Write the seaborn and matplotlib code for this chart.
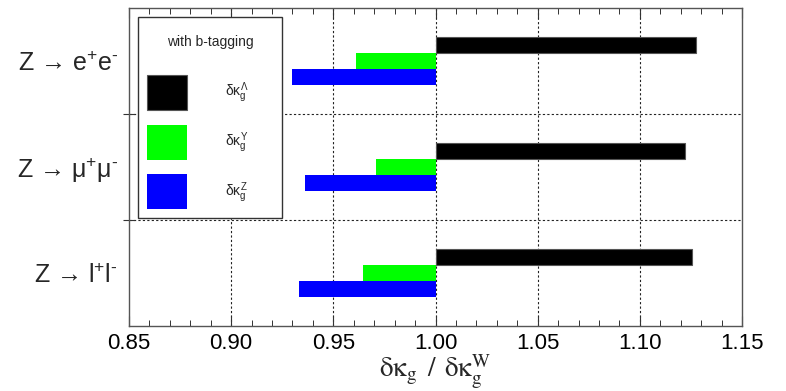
import numpy as np
import pandas as pd
import matplotlib
matplotlib.use("Agg")
import matplotlib.pyplot as plt
import seaborn as sns
from matplotlib.patches import Rectangle
from matplotlib.ticker import MultipleLocator, FixedLocator

# ---- data ----
channels = ["Z → e$^{+}$e$^{\\text{-}}$", "Z → μ$^{+}$μ$^{\\text{-}}$", "Z → l$^{+}$l$^{\\text{-}}$"]
kappa_lambda = [1.1275, 1.122, 1.1255]
kappa_gamma = [0.961, 0.971, 0.9645]
kappa_z = [0.930, 0.936, 0.933]
series_labels = [r"$\delta\kappa_g^{\Lambda}$", r"$\delta\kappa_g^{Y}$", r"$\delta\kappa_g^{Z}$"]
series_colors = ["#000000", "#00ff00", "#0000ff"]
reference = 1.0
x_ticks = [0.85, 0.90, 0.95, 1.00, 1.05, 1.10, 1.15]
x_ticklabels = ["0.85", "0.90", "0.95", "1.00", "1.05", "1.10", "1.15"]
legend_title = "with b-tagging"
x_label = r"$\mathrm{\delta\kappa}_{\mathrm{g}}\ \,/\ \,\mathrm{\delta\kappa}_{\mathrm{g}}^{\mathrm{W}}$"

rows = []
for lab, vals in zip(series_labels, [kappa_lambda, kappa_gamma, kappa_z]):
    for ch, v in zip(channels, vals):
        rows.append({"channel": ch, "series": lab, "value": v, "offset": v - reference})
df = pd.DataFrame(rows)

sns.set_style("ticks")
plt.rcParams["font.family"] = ["Liberation Sans", "DejaVu Sans"]
plt.rcParams["mathtext.fontset"] = "custom"
plt.rcParams["mathtext.rm"] = "Liberation Sans"
plt.rcParams["mathtext.it"] = "Liberation Sans"
plt.rcParams["mathtext.bf"] = "Liberation Sans:bold"

W, H = 786, 391
fig = plt.figure(figsize=(W / 100, H / 100), dpi=100)
AX_L, AX_R, AX_T, AX_B = 129, 742, 8, 326
ax = fig.add_axes([AX_L / W, 1 - AX_B / H, (AX_R - AX_L) / W, (AX_B - AX_T) / H])

def ax_xy(px, py):
    return ((px - AX_L) / (AX_R - AX_L), (AX_B - py) / (AX_B - AX_T))

sns.barplot(data=df, y="channel", x="offset", hue="series",
            order=channels, hue_order=series_labels, palette=series_colors,
            orient="h", width=0.45, left=reference, edgecolor="none",
            linewidth=0, saturation=1, legend=False, ax=ax)
for p in ax.containers[0].patches:
    p.set_edgecolor("#555555")
    p.set_linewidth(0.8)

ax.set_xlim(x_ticks[0], x_ticks[-1])
ax.set_ylim(2.5, -0.5)
ax.xaxis.set_major_locator(FixedLocator(x_ticks))
ax.set_xticklabels(x_ticklabels)
ax.xaxis.set_minor_locator(MultipleLocator(0.01))
ax.yaxis.set_minor_locator(FixedLocator([0.5, 1.5]))

ax.tick_params(axis="x", which="major", direction="in", length=7, width=0.8,
               top=True, labelsize=16, pad=5, colors="#333333", labelcolor="black")
ax.tick_params(axis="x", which="minor", direction="in", length=4, width=0.7,
               top=True, colors="#333333")
ax.tick_params(axis="y", which="major", length=0, labelsize=18, pad=8)
ax.tick_params(axis="y", which="minor", direction="inout", length=8, width=0.8,
               colors="#333333")

ax.grid(False)
for x in x_ticks[1:-1]:
    ax.axvline(x, color="#222222", linestyle=(0, (2, 2)), linewidth=0.8, zorder=0)
for y in [0.5, 1.5]:
    ax.axhline(y, color="#222222", linestyle=(0, (2, 2)), linewidth=0.8, zorder=0)

for s in ax.spines.values():
    s.set_color("#555555")
    s.set_linewidth(1.0)

ax.set_ylabel("")
ax.set_xlabel(x_label, fontsize=19.5, labelpad=-1, math_fontfamily="stix")

# legend frame
x0, y1 = ax_xy(138, 218)
x1, y0 = ax_xy(282, 17)
ax.add_patch(Rectangle((x0, y1), x1 - x0, y0 - y1, transform=ax.transAxes,
                       facecolor="white", edgecolor="#333333", linewidth=1.0,
                       zorder=4.5, clip_on=False))
tx, ty = ax_xy(210, 42)
ax.text(tx, ty, legend_title, transform=ax.transAxes, ha="center", va="center",
        fontsize=10, zorder=6)

handles = [c.patches[0] for c in ax.containers]
leg = ax.legend(handles, series_labels, loc="upper left",
                bbox_to_anchor=ax_xy(147, 75),
                fontsize=10, handlelength=2.9, handleheight=3.5,
                labelspacing=1.05, handletextpad=2.7, borderpad=0.0,
                borderaxespad=0, frameon=False)
leg.set_zorder(5)

fig.savefig("out.png", dpi=100)
